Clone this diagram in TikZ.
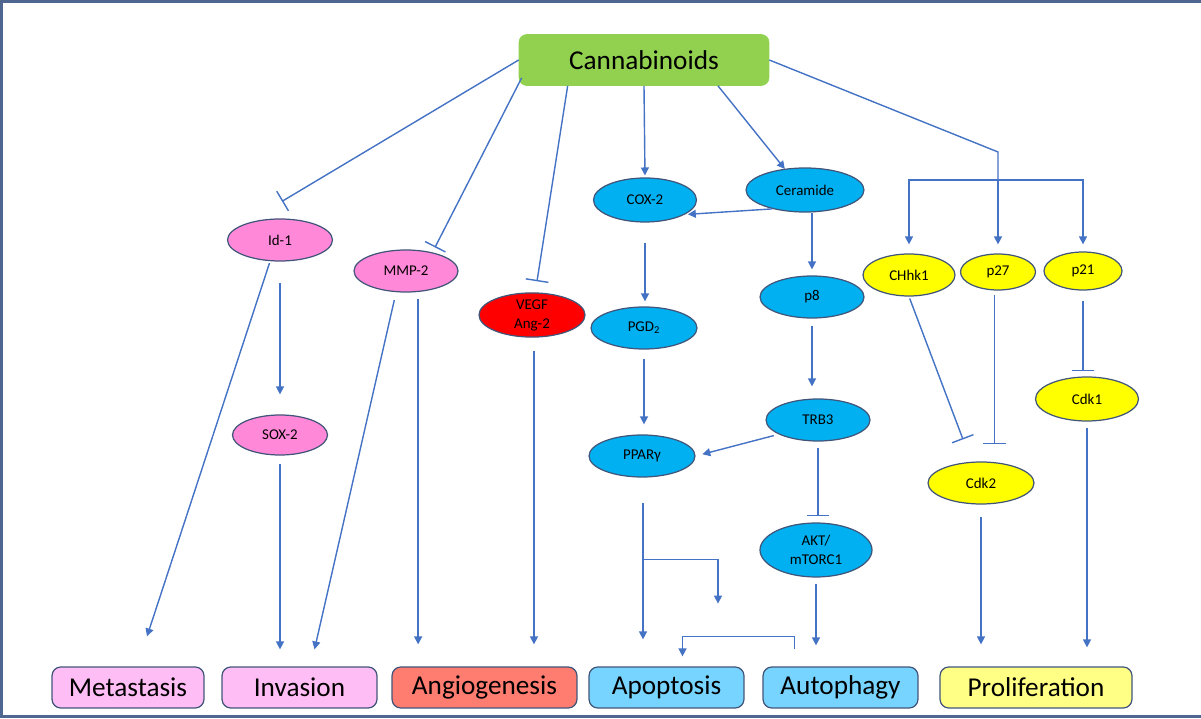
\documentclass[tikz,border=0pt]{standalone}
\usepackage{fontspec}
\setmainfont{Carlito}
\usepackage{tikz}
\usetikzlibrary{positioning, shapes.geometric, arrows.meta, calc}
\definecolor{lnblue}{HTML}{4472C4}
\definecolor{edge}{HTML}{41557A}
\definecolor{frm}{HTML}{4F6690}
\definecolor{leaf}{HTML}{92D050}
\definecolor{pnk}{HTML}{FF89D8}
\definecolor{pnklt}{HTML}{FFBDF5}
\definecolor{rd}{HTML}{FF0000}
\definecolor{salmon}{HTML}{FF7C70}
\definecolor{cyn}{HTML}{00B0F0}
\definecolor{cynlt}{HTML}{77D4FF}
\definecolor{yel}{HTML}{FFFF00}
\definecolor{yellt}{HTML}{FFFF85}

\begin{document}
\begin{tikzpicture}[x=0.02cm, y=-0.02cm,
  hub/.style={rounded corners=4.5pt, fill=leaf, draw=leaf,
              minimum width=5cm, minimum height=1.02cm,
              font=\fontsize{15.5}{18}\selectfont},
  oval/.style={ellipse, draw=edge, line width=0.7pt, inner sep=0pt,
               minimum width=2.08cm, minimum height=0.84cm,
               font=\fontsize{8.5}{10.8}\selectfont, align=center},
  outcome/.style={rounded corners=5pt, draw=edge, line width=0.7pt,
                  minimum height=0.82cm, font=\fontsize{15.5}{18}\selectfont},
  link/.style={draw=lnblue, line width=0.8pt},
  act/.style={link, -{Triangle[length=4.5pt,width=4.5pt]}},
  inh/.style={link, -{Bar[width=13pt]}}]
  \useasboundingbox (0,0) rectangle (1201,719);
  \draw[frm, line width=1.2pt] (1201,1.5) -- (1.5,1.5) -- (1.5,716.5) -- (1201,716.5);

  \node[hub] (cann) at (644,60) {Cannabinoids};

  \node[oval,fill=pnk,minimum width=2.1cm]  (id1)  at (280,240) {Id-1};
  \node[oval,fill=pnk,minimum width=1.9cm,minimum height=0.8cm] (sox2) at (280,435) {SOX-2};
  \node[oval,fill=pnk]                      (mmp2) at (406,271) {MMP-2};
  \node[oval,fill=rd,minimum width=2.12cm,minimum height=0.88cm] (vegf) at (532,315) {VEGF\\Ang-2};
  \node[oval,fill=cyn,minimum width=2.06cm,minimum height=0.88cm] (cox2) at (645,200) {COX-2};
  \node[oval,fill=cyn,minimum width=2.36cm,minimum height=0.88cm] (cer)  at (805,190) {Ceramide};
  \node[oval,fill=cyn,minimum width=2.12cm] (pgd2) at (644,328) {PGD\textsubscript{2}};
  \node[oval,fill=cyn]                      (p8)   at (812,297) {p8};
  \node[oval,fill=cyn]                      (trb3) at (818,420) {TRB3};
  \node[oval,fill=cyn,minimum width=2.12cm] (ppar) at (642,456) {PPARγ};
  \node[oval,fill=cyn,minimum width=2.24cm,minimum height=1.08cm] (akt) at (816,550) {AKT/\\mTORC1};
  \node[oval,fill=yel,minimum width=1.84cm] (chk1) at (909,275) {CHhk1};
  \node[oval,fill=yel,minimum width=1.5cm,minimum height=0.72cm]  (p27)  at (998,272) {p27};
  \node[oval,fill=yel,minimum width=1.56cm,minimum height=0.76cm] (p21)  at (1083,271) {p21};
  \node[oval,fill=yel,minimum width=2.06cm,minimum height=0.88cm] (cdk1) at (1087,399) {Cdk1};
  \node[oval,fill=yel,minimum width=2.12cm] (cdk2) at (981,483) {Cdk2};

  \node[outcome,fill=pnklt,minimum width=3.04cm]  (meta)   at (128,687.5)  {Metastasis};
  \node[outcome,fill=pnklt,minimum width=3.1cm]   (inv)    at (299.5,687.5) {Invasion};
  \node[outcome,fill=salmon,minimum width=3.7cm]  (angio)  at (484.5,687.5) {Angiogenesis};
  \node[outcome,fill=cynlt,minimum width=3.1cm]   (apop)   at (666.5,687.5) {Apoptosis};
  \node[outcome,fill=cynlt,minimum width=3.1cm]   (auto)   at (840.5,687.5) {Autophagy};
  \node[outcome,fill=yellt,minimum width=3.84cm]  (prolif) at (1036,687.5) {Proliferation};

  \coordinate (fork) at (998,180);
  \coordinate (pp) at ($(ppar.south)+(1,0)$);
  \coordinate (br) at ($(pp)+(0,82)$);

  \draw[inh] (cann.west) -- ($(id1.north)+(2,-17)$);
  \draw[inh] ($(cann.south west)+(3,-8)$) -- ($(mmp2.north)+(29,-2)$);
  \draw[inh] ($(cann.south west)+(49,0)$) -- ($(vegf.north)+(5,-11)$);
  \draw[act, shorten >=0.04cm] (cann.south) -- (cox2.north);
  \draw[act] ($(cann.south)+(74,0)$) -- ($(cer.north west)+(22,-5)$);
  \draw[link] (cann.east) -- ($(fork)+(0,-28)$) -- (fork);
  \draw[act, shorten >=0.18cm] (fork) -| (chk1.north);
  \draw[act, shorten >=0.18cm] (fork) -- (p27.north);
  \draw[act, shorten >=0.14cm] (fork) -| (p21.north);

  \draw[act, shorten >=0.06cm] (cer.210) -- (cox2.-20);
  \draw[act, shorten <=0.4cm, shorten >=0.1cm] (cox2.south) -- (cox2.south |- pgd2.north);
  \draw[act, shorten >=0.12cm] (cer.south -| p8.north) -- (p8.north);
  \draw[act, shorten <=0.18cm, shorten >=0.2cm] (pgd2.south) -- (pgd2.south |- ppar.north);
  \draw[act, shorten <=0.14cm, shorten >=0.24cm] (p8.south) -- (p8.south |- trb3.north);
  \draw[act, shorten <=0.1cm, shorten >=0.14cm] (trb3.200) -- (ppar.east);
  \draw[inh, shorten <=0.12cm, shorten >=0.12cm] (trb3.south) -- (trb3.south |- akt.north);

  \draw[act, shorten <=0.5cm, shorten >=0.54cm] (pp) -- (pp |- apop.north);
  \draw[act] (br) -| ($(br)+(75,44)$);
  \draw[act, shorten <=0.12cm, shorten >=0.42cm] (akt.south) -- (akt.south |- auto.north);
  \draw[act] ($(auto.north west)+(32,-17)$) -- ++(0,-13) -| ($(apop.north)+(16,-10)$);

  \draw[act, shorten <=0.04cm] (id1.245) -- ($(meta.north)+(19,-30)$);
  \draw[act, shorten <=0.42cm, shorten >=0.4cm] (id1.south) -- (sox2.north);
  \draw[act, shorten <=0.16cm, shorten >=0.34cm] (sox2.south) -- (sox2.south |- inv.north);
  \draw[act, shorten <=0.16cm] (mmp2.245) -- ($(inv.north)+(15,-17)$);
  \draw[act, shorten <=0.14cm, shorten >=0.44cm] (mmp2.300) -- (mmp2.300 |- angio.north);
  \draw[act, shorten <=0.26cm, shorten >=0.44cm] (vegf.275) -- (vegf.275 |- angio.north);

  \draw[inh, shorten <=0.04cm] (chk1.south) -- ($(cdk2.north)+(-18,-22)$);
  \draw[inh, shorten <=0.08cm, shorten >=0.34cm] (p27.260) -- (p27.260 |- cdk2.north);
  \draw[inh, shorten <=0.2cm, shorten >=0.1cm] (p21.south) -- (p21.south |- cdk1.north);
  \draw[act, shorten <=0.24cm, shorten >=0.44cm] (cdk2.south) -- (cdk2.south |- prolif.north);
  \draw[act, shorten <=0.12cm, shorten >=0.38cm] (cdk1.south) -- (cdk1.south |- prolif.north);
\end{tikzpicture}
\end{document}
